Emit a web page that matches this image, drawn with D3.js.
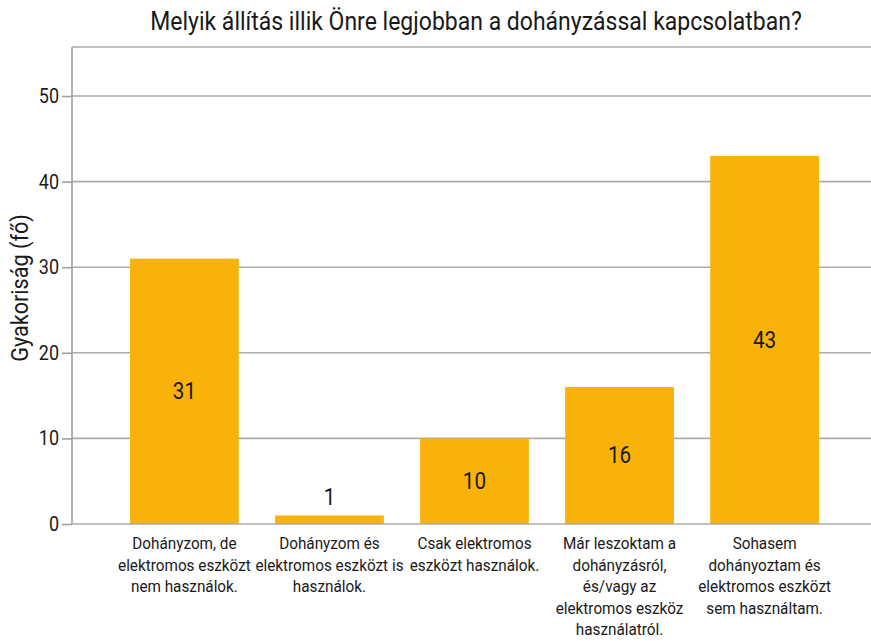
<!DOCTYPE html>
<html>
<head>
<meta charset="utf-8">
<script src="https://cdn.jsdelivr.net/npm/d3@7"></script>
<style>
  html, body { margin: 0; padding: 0; background: #fff; }
  text { font-family: Roboto, "Noto Sans", sans-serif; fill: #1a1a1a; }
</style>
</head>
<body>
<svg id="chart" width="871" height="641"></svg>
<script>
const title = "Melyik állítás illik Önre legjobban a dohányzással kapcsolatban?";
const yLabel = "Gyakoriság (fő)";
const categories = [
  ["Dohányzom, de", "elektromos eszközt", "nem használok."],
  ["Dohányzom és", "elektromos eszközt is", "használok."],
  ["Csak elektromos", "eszközt használok."],
  ["Már leszoktam a", "dohányzásról,", "és/vagy az", "elektromos eszköz", "használatról."],
  ["Sohasem", "dohányoztam és", "elektromos eszközt", "sem használtam."]
];
const values = [31, 1, 10, 16, 43];
const yTicks = [0, 10, 20, 30, 40, 50];

const svg = d3.select("#chart");
const W = 871;
const left = 72, bottom = 524, topY = 47;

const y = d3.scaleLinear().domain([0, 50]).range([bottom, 96]);
const x = d3.scaleBand().domain(d3.range(values.length))
  .range([left, 877]).paddingInner(0.25).paddingOuter(0.4);

function ctext(sel, tx, ty, sx, extra) {
  return sel.append("text")
    .attr("transform", `translate(${tx},${ty})${extra || ""} scale(${sx},1)`);
}

// gridlines
svg.append("g").selectAll("line").data(yTicks.filter(d => d > 0)).join("line")
  .attr("x1", left).attr("x2", W).attr("y1", d => y(d)).attr("y2", d => y(d))
  .attr("stroke", "#ababab").attr("stroke-width", 1.6);
// top frame line
svg.append("line").attr("x1", left).attr("x2", W).attr("y1", topY).attr("y2", topY)
  .attr("stroke", "#ababab").attr("stroke-width", 1.6);

// bars
svg.append("g").selectAll("rect").data(values).join("rect")
  .attr("x", (d, i) => x(i)).attr("width", x.bandwidth())
  .attr("y", d => y(d)).attr("height", d => y(0) - y(d))
  .attr("fill", "#F9B20A");

// baseline
svg.append("line").attr("x1", left).attr("x2", W).attr("y1", y(0)).attr("y2", y(0))
  .attr("stroke", "#ababab").attr("stroke-width", 1.6);

// y axis
const yAxis = d3.axisLeft(y).tickValues(yTicks).tickSize(10).tickPadding(3);
const ga = svg.append("g").attr("transform", `translate(${left},0)`).call(yAxis);
ga.select(".domain").attr("d", `M0,${topY}V${bottom}`).attr("stroke", "#a0a0a0").attr("stroke-width", 1.6);
ga.selectAll(".tick line").attr("stroke", "#a0a0a0").attr("stroke-width", 1.6);
ga.selectAll(".tick text").each(function () {
  const t = d3.select(this);
  t.attr("x", null).attr("transform", `translate(-13,0) scale(0.9,1)`)
   .attr("font-size", 20).attr("font-family", "Roboto, sans-serif").attr("fill", "#1a1a1a");
});

// value labels
values.forEach((v, i) => {
  const cx = x(i) + x.bandwidth() / 2;
  const inside = (y(0) - y(v)) > 40;
  const ty = inside ? (y(v) + y(0)) / 2 : y(v) - 18;
  ctext(svg, cx, ty, 0.9).attr("text-anchor", "middle").attr("dominant-baseline", "central")
    .attr("font-size", 23).text(v);
});

// category labels
categories.forEach((lines, i) => {
  const cx = x(i) + x.bandwidth() / 2;
  lines.forEach((ln, j) => {
    ctext(svg, cx, 549 + j * 21.5, 0.9).attr("text-anchor", "middle")
      .attr("font-size", 17).text(ln);
  });
});

// title
ctext(svg, 476, 30, 0.92).attr("text-anchor", "middle").attr("font-size", 25).text(title);

// y label
ctext(svg, 28, 288, 0.9, " rotate(-90)").attr("text-anchor", "middle").attr("font-size", 24).text(yLabel);
</script>
</body>
</html>
